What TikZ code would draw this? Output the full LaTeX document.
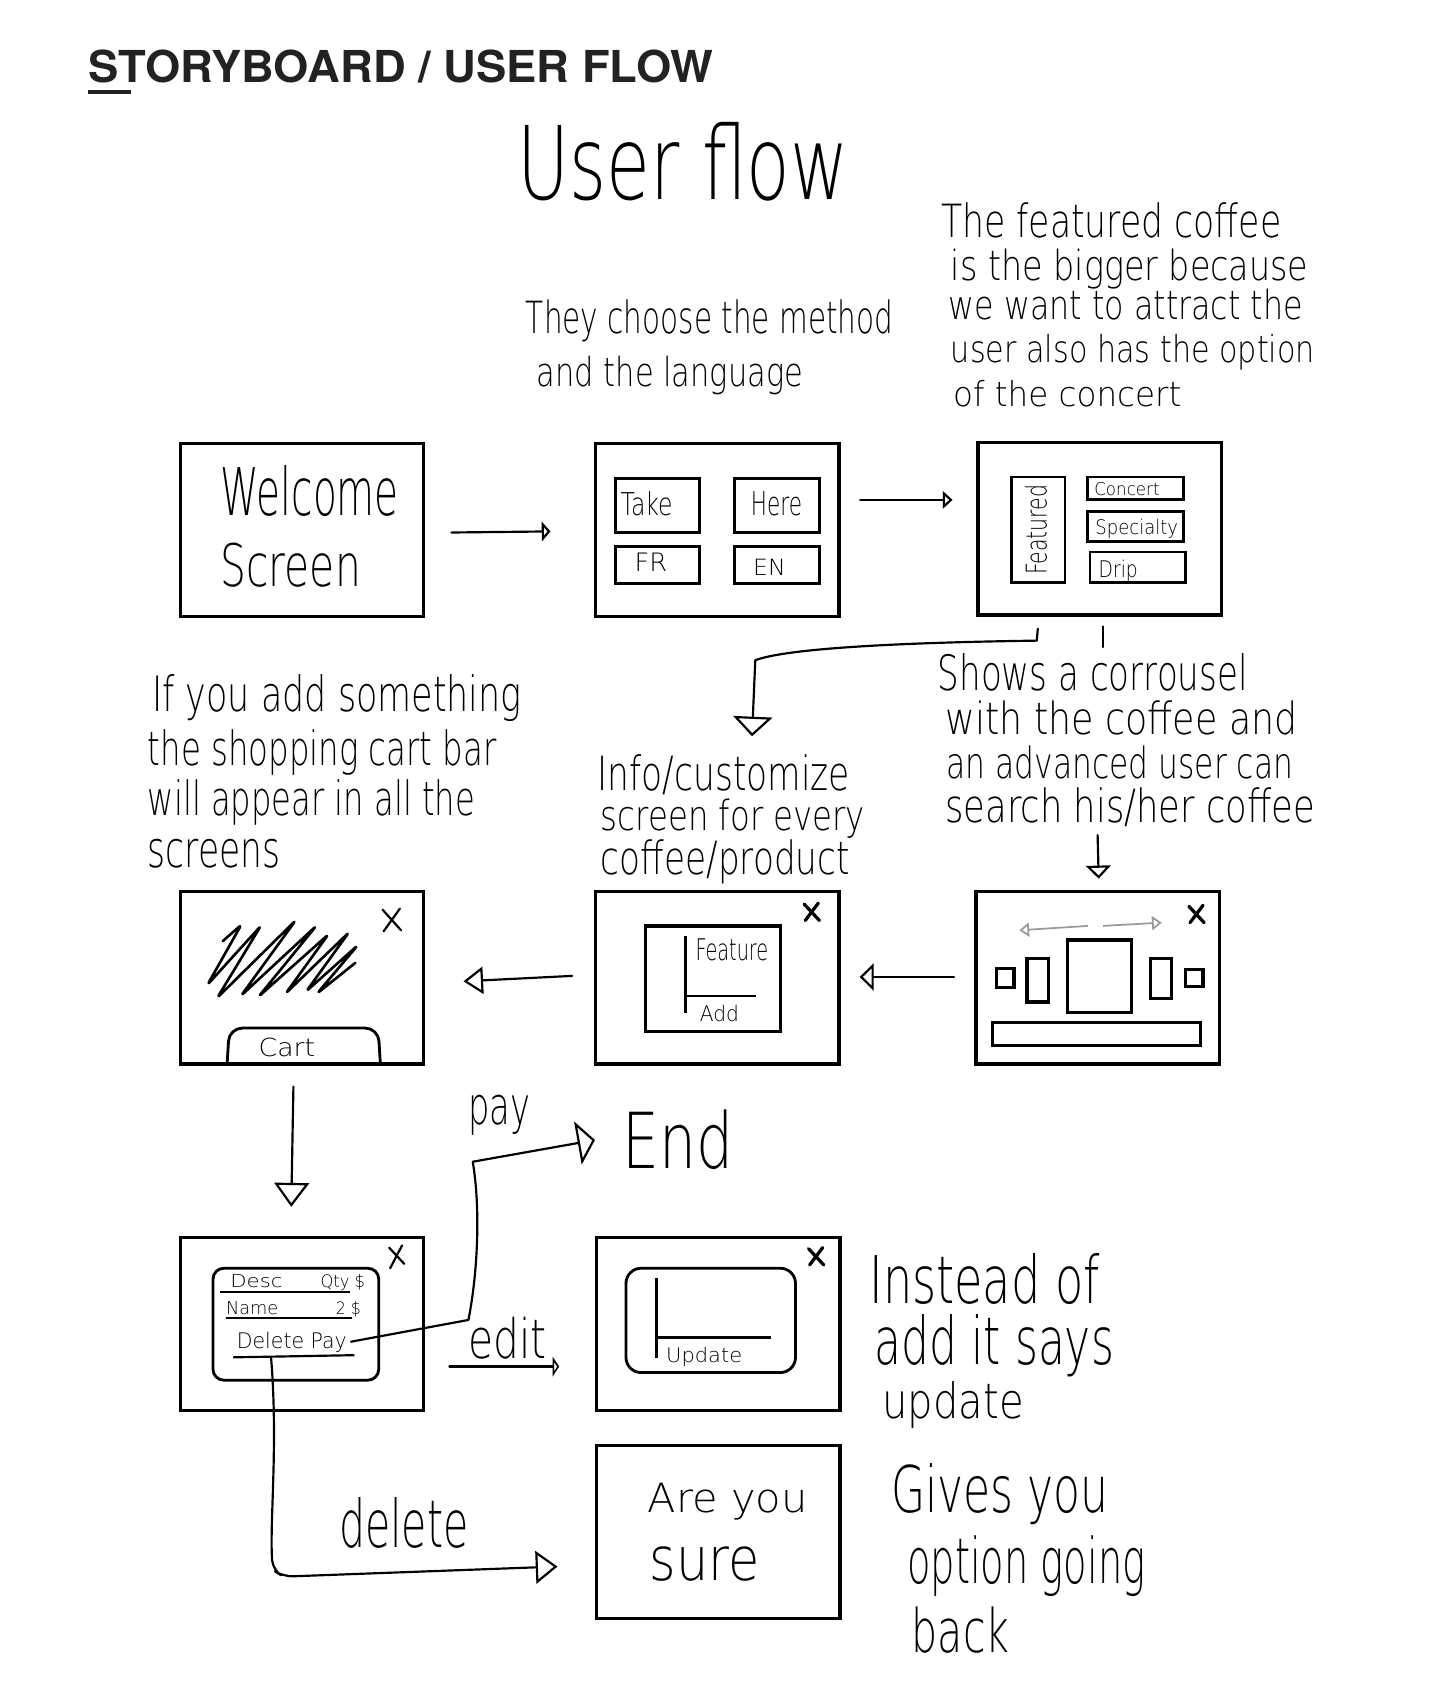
\documentclass[tikz,border=0pt]{standalone}
\usepackage{fontspec}
\IfFontExistsTF{DejaVuSans-ExtraLight.ttf}
  {\newfontfamily\hwfont{DejaVuSans-ExtraLight.ttf}}
  {\IfFontExistsTF{DejaVu Sans ExtraLight}
     {\newfontfamily\hwfont{DejaVu Sans ExtraLight}}
     {\newfontfamily\hwfont{Open Sans}}}
\newfontfamily\titlefont{TeX Gyre Heros}
\usetikzlibrary{arrows.meta,calc}
\definecolor{titlegray}{HTML}{222222}
\definecolor{softgray}{HTML}{9A9A9A}
\tikzset{
  hw/.style={anchor=base west, inner sep=0pt, outer sep=0pt, font=\hwfont},
  screen/.style={draw, line width=3pt, minimum width=224pt, minimum height=159pt, inner sep=0pt},
  inbox/.style={line width=2.6pt},
  conn/.style={line width=2pt, line cap=round, line join=round},
  xmark/.style={line width=2pt, line cap=round},
}
\newcommand\hwline[6]{\node[hw] (#1) at (#2,#3) {\resizebox{#4pt}{#5pt}{#6}};}
\begin{document}
\begin{tikzpicture}[x=1pt,y=-1pt]
\fill[white] (0,0) rectangle (1325,1568);
\useasboundingbox (0,0) rectangle (1325,1568);

% title
\node[anchor=base west, inner sep=0pt, text=titlegray] (title) at (81,76)
  {\resizebox{575pt}{30pt}{\titlefont\bfseries STORYBOARD / USER FLOW}};
\draw[titlegray, line width=3.5pt] (81,84.5) -- (121,84.5);

% heading
\hwline{uf}{476}{184}{305}{71}{User flow}

% notes
\hwline{m1}{484}{307}{338}{31}{They choose the method}
\hwline{m2}{494}{356}{245}{28}{and the language}

\hwline{f1}{866}{219}{313}{32}{The featured coffee}
\hwline{f2}{875}{258}{329}{29}{is the bigger because}
\hwline{f3}{873}{294}{326}{28}{we want to attract the}
\hwline{f4}{875}{334}{335}{26}{user also has the option}
\hwline{f5}{877}{374}{210}{24}{of the concert}

\hwline{s1}{863}{635}{285}{34}{Shows a corrousel}
\hwline{s2}{870}{676}{324}{31}{with the coffee and}
\hwline{s3}{871}{716}{319}{30}{an advanced user can}
\hwline{s4}{870}{757}{340}{32}{search his/her coffee}

\hwline{a1}{140}{655}{340}{34}{If you add something}
\hwline{a2}{136}{704}{321}{33}{the shopping cart bar}
\hwline{a3}{136}{750}{301}{33}{will appear in all the}
\hwline{a4}{136}{798}{122}{26}{screens}

\hwline{i1}{550}{727}{232}{33}{Info/customize}
\hwline{i2}{553}{764}{243}{29}{screen for every}
\hwline{i3}{553}{805}{229}{32}{coffee/product}

\hwline{in1}{800}{1199}{212}{46}{Instead of}
\hwline{in2}{805}{1256}{220}{46}{add it says}
\hwline{in3}{812}{1305}{130}{34}{update}

\hwline{g1}{820}{1392}{200}{45}{Gives you}
\hwline{g2}{835}{1457}{219}{44}{option going}
\hwline{g3}{839}{1521}{90}{42}{back}

% screens
\node[screen] (b1) at (278,487.5) {};
\node[screen] (b2) at (660,487.5) {};
\node[screen] (b3) at (1012,486.5) {};
\node[screen] (b4) at (278,899.5) {};
\node[screen] (b5) at (660,899.5) {};
\node[screen] (b6) at (1010,899.5) {};
\node[screen] (b7) at (278,1218.5) {};
\node[screen] (b8) at (661,1218.5) {};
\node[screen] (b9) at (661,1409.5) {};

% B1 welcome
\hwline{w1}{203}{474}{164}{46}{Welcome}
\hwline{w2}{203}{540}{129}{40}{Screen}

% B2 method / language
\draw[inbox] (566,440) rectangle (644,490);
\draw[inbox] (676,440) rectangle (754,490);
\draw[inbox] (566,503) rectangle (644,537);
\draw[inbox] (676,503) rectangle (754,537);
\hwline{take}{571}{474}{48}{22}{Take}
\hwline{here}{691}{474}{47}{22}{Here}
\hwline{fr}{584}{526}{30}{17}{FR}
\hwline{en}{693}{530}{30}{15}{EN}

% B3 home
\draw[inbox] (931,439) rectangle (980,536);
\draw[inbox] (1001,439) rectangle (1089,460);
\draw[inbox] (1001,471) rectangle (1089,498);
\draw[inbox] (1003,508) rectangle (1091,536);
\node[hw, rotate=90] (feat) at (963,529) {\resizebox{83pt}{20pt}{Featured}};
\hwline{concert}{1007}{455.5}{60}{12}{Concert}
\hwline{special}{1008}{492}{76}{14}{Specialty}
\hwline{drip}{1011}{531}{36}{16}{Drip}

% B4 cart bar
\draw[line width=2.4pt, line join=round, line cap=round, rounded corners=3pt]
  (205,866) -- (222,851) -- (191,906) -- (240,852) -- (200,918) -- (272,847)
  -- (222,916) -- (291,852) -- (238,917) -- (302,860) -- (263,914) -- (321,858)
  -- (282,912) -- (329,870) -- (292,914) -- (327,886);
\draw[xmark] (352,837) -- (369,856) (368,836) -- (353,857);
\draw[inbox, rounded corners=12pt] (209,979) -- (211,946) -- (348,946) -- (350,979);
\hwline{cart}{238}{972.5}{52}{17}{Cart}

% B5 info / customize
\draw[line width=3pt] (594,852) rectangle (718,949);
\draw[line width=2.6pt] (631,861) -- (631,932);
\draw[line width=2.6pt] (631,916.5) -- (696,916.5);
\hwline{feature}{640}{883.5}{67}{20}{Feature}
\hwline{add}{644}{940}{36}{15}{Add}
\draw[xmark, line width=3pt] (740,832) -- (754,847) (753,831) -- (741,847);

% B6 carousel
\draw[softgray, line width=1.6pt, -{Triangle[open,length=9pt,width=13pt]}] (1001,852) -- (938,856);
\draw[softgray, line width=1.6pt, -{Triangle[open,length=9pt,width=13pt]}] (1015,852) -- (1069,849);
\draw[line width=3pt] (982,865) rectangle (1041,932);
\draw[line width=3pt] (945,882) rectangle (965,922);
\draw[line width=3pt] (917,891) rectangle (933,909);
\draw[line width=3pt] (1059,882) rectangle (1078,919);
\draw[line width=3pt] (1091,892) rectangle (1107,908);
\draw[line width=3pt] (913,941) rectangle (1105,962);
\draw[xmark, line width=3pt] (1094,834) -- (1108,849) (1107,833) -- (1095,849);

% B7 cart list
\draw[inbox, rounded corners=10pt] (196,1167) rectangle (348.5,1270);
\draw[line width=2pt] (202,1188.5) -- (322,1188.5);
\draw[line width=2pt] (208,1213) -- (324,1213);
\draw[line width=2pt] (214.5,1249) -- (326,1247);
\hwline{desc}{212}{1185}{48}{12}{Desc}
\hwline{qty}{295}{1185}{41}{12}{Qty \$}
\hwline{name}{208}{1210}{48}{12}{Name}
\hwline{two}{309}{1210}{23}{12}{2 \$}
\hwline{dp}{218}{1240.6}{101}{15}{Delete Pay}
\draw[xmark] (358,1148) -- (372,1163) (370,1146) -- (359,1167);

% B8 update
\draw[inbox, rounded corners=14pt] (576,1167) rectangle (732,1263);
\draw[line width=2.6pt] (604,1176) -- (604,1250);
\draw[line width=2.6pt] (604,1231) -- (709,1231);
\hwline{upd}{613}{1254}{70}{14}{Update}
\draw[xmark, line width=3pt] (744,1149) -- (758,1164) (757,1148) -- (745,1164);

% B9 are you sure
\hwline{are1}{596}{1392}{147}{27}{Are you}
\hwline{are2}{598}{1454}{101}{31}{sure}

% connector labels
\hwline{pay}{431}{1035}{57}{27}{pay}
\hwline{endt}{573}{1075}{102}{54}{End}
\hwline{edit}{431}{1250}{72}{38}{edit}
\hwline{del}{312}{1424}{119}{46}{delete}

% connectors
\draw[conn, -{Triangle[open,length=8pt,width=18pt]}]
  ($(b1.east)+(24,2.5)$) -- ($(b2.west)+(-40,1.5)$);
\draw[conn, -{Triangle[open,length=9pt,width=16pt]}]
  ($(b2.east)+(18,-27.5)$) -- ($(b3.west)+(-22,-26.5)$);
\draw[conn, -{Triangle[open,length=18pt,width=36pt]}]
  ($(b3.south)+(-57,11)$) -- ($(b3.south)+(-58,22)$)
  .. controls ($(b3.south)+(-200,24)$) and ($(b3.south)+(-290,30)$) .. ($(b5.north)+(35,-211)$)
  -- ($(b5.north)+(32,-141)$);
\draw[conn] ($(b3.south)+(3,9)$) -- ($(b3.south)+(3,28)$);
\draw[conn, -{Triangle[open,length=12pt,width=23pt]}]
  ($(b6.north)+(0,-50)$) -- ($(b6.north)+(1,-10)$);
\draw[conn, -{Triangle[open,length=13pt,width=25pt]}]
  ($(b6.west)+(-18.5,-0.5)$) -- ($(b5.east)+(17.5,-0.5)$);
\draw[conn, -{Triangle[open,length=18pt,width=25pt]}]
  ($(b5.west)+(-20,-1.5)$) -- ($(b4.east)+(35,3.5)$);
\draw[conn, -{Triangle[open,length=22pt,width=32pt]}]
  ($(b4.south)+(-8,19.5)$) -- ($(b7.north)+(-10,-27)$);
\draw[conn, -{Triangle[open,length=16pt,width=40pt]}]
  ($(dp.base east)+(4,-6)$) -- (431,1214.6)
  .. controls (440,1170) and (442,1110) .. (435,1069)
  -- ($(endt.base west)+(-25.5,-26)$);
\draw[conn, -{Triangle[open,length=6pt,width=18pt]}]
  ($(b7.east)+(22,39)$) -- ($(b8.west)+(-33,39)$);
\draw[conn, -{Triangle[open,length=20pt,width=30pt]}, rounded corners=9pt]
  ($(b7.center)+(-28.5,31.5)$) .. controls (256,1330) and (248,1400) .. (251,1444.6)
  -- (260.6,1450.8) -- ($(b9.west)+(-34.5,32)$);
\end{tikzpicture}
\end{document}
